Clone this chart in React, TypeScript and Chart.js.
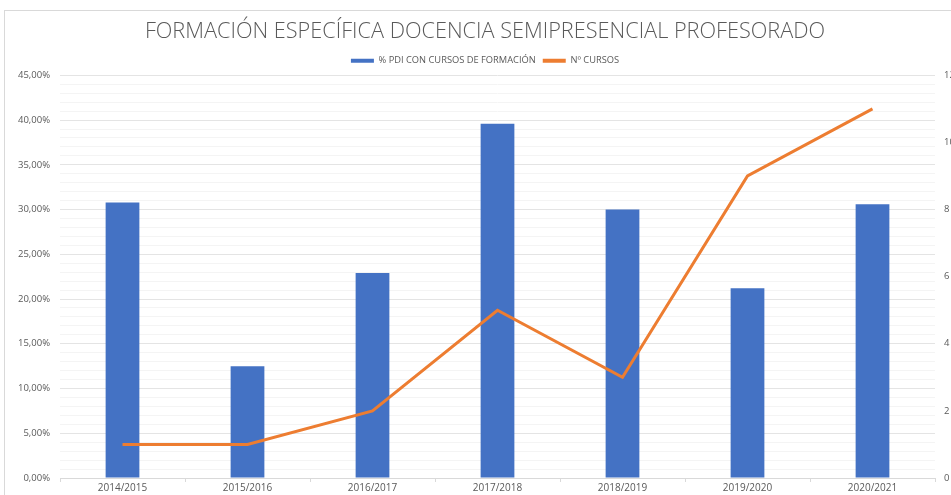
import React, { useEffect, useRef } from "react";
import { Chart, registerables } from "chart.js";

Chart.register(...registerables);

const categories = ["2014/2015", "2015/2016", "2016/2017", "2017/2018", "2018/2019", "2019/2020", "2020/2021"];
const pctPdi = [30.8, 12.5, 22.9, 39.6, 30.0, 21.2, 30.6];
const numCursos = [1, 1, 2, 5, 3, 9, 11];
const titleText = "FORMACIÓN ESPECÍFICA DOCENCIA SEMIPRESENCIAL PROFESORADO";
const barLabel = "% PDI CON CURSOS DE FORMACIÓN";
const lineLabel = "Nº CURSOS";

const CANVAS_W = 962;
const CANVAS_H = 495;

export default function App() {
  const ref = useRef<HTMLCanvasElement | null>(null);

  useEffect(() => {
    document.body.style.margin = "0";
    const canvas = ref.current!;
    const chart = new Chart(canvas, {
      data: {
        labels: categories,
        datasets: [
          {
            type: "line" as const,
            label: lineLabel,
            data: numCursos,
            yAxisID: "y1",
            borderColor: "#ED7D31",
            backgroundColor: "#ED7D31",
            borderWidth: 3,
            pointRadius: 0,
            tension: 0,
            order: 0,
          },
          {
            type: "bar" as const,
            label: barLabel,
            data: pctPdi,
            yAxisID: "y",
            backgroundColor: "#4472C4",
            borderWidth: 0,
            barPercentage: 0.27,
            categoryPercentage: 1,
            order: 1,
          },
        ],
      },
      options: {
        animation: false,
        responsive: false,
        maintainAspectRatio: false,
        devicePixelRatio: 1,
        layout: { padding: { left: 8, right: 0, top: 11, bottom: 1 } },
        plugins: {
          title: {
            display: true,
            text: titleText,
            color: "#595959",
            font: { family: "Open Sans", size: 21.7, weight: "300" as any },
            padding: { top: 8, bottom: 4 },
          },
          legend: {
            display: true,
            reverse: true,
            labels: {
              color: "#595959",
              font: { family: "Open Sans", size: 9.3 },
              boxWidth: 23,
              boxHeight: 4,
              padding: 7,
              generateLabels: (c: any) => {
                const ds = c.data.datasets;
                return ds.map((d: any, i: number) => ({
                  text: d.label,
                  fillStyle: d.type === "line" ? "#ED7D31" : "#4472C4",
                  strokeStyle: d.type === "line" ? "#ED7D31" : "#4472C4",
                  lineWidth: 0,
                  hidden: false,
                  datasetIndex: i,
                  fontColor: "#595959",
                }));
              },
            },
          },
          tooltip: { enabled: false },
        },
        scales: {
          x: {
            offset: true,
            grid: {
              display: true,
              offset: true,
              drawOnChartArea: false,
              drawTicks: true,
              tickLength: 4,
              color: "#d9d9d9",
            },
            border: { display: true, color: "#d9d9d9" },
            ticks: {
              color: "#595959",
              font: { family: "Open Sans", size: 10 },
              padding: 0,
              maxRotation: 0,
            },
          },
          y: {
            position: "left",
            min: 0,
            max: 45,
            ticks: {
              stepSize: 1,
              autoSkip: false,
              color: "#595959",
              font: { family: "Open Sans", size: 9.5 },
              padding: 10,
              callback: (v: any) =>
                Number(v) % 5 === 0 ? Number(v).toFixed(2).replace(".", ",") + "%" : "",
            },
            grid: {
              drawTicks: false,
              color: (ctx: any) => (ctx.tick && ctx.tick.value % 5 === 0 ? "#e4e4e4" : "#f4f4f4"),
              lineWidth: 1,
            },
            border: { display: false },
            afterFit: (s: any) => {
              s.width = 52;
            },
          },
          y1: {
            position: "right",
            min: 0,
            max: 12,
            ticks: {
              stepSize: 2,
              color: "#595959",
              font: { family: "Open Sans", size: 9.5 },
              padding: 9,
            },
            grid: { display: false, drawTicks: false },
            border: { display: false },
            afterFit: (s: any) => {
              s.width = 27;
            },
          },
        },
      },
    } as any);
    return () => chart.destroy();
  }, []);

  return (
    <div style={{ position: "relative", width: 951, height: 495, overflow: "hidden", background: "#fff" }}>
      <div
        style={{
          position: "absolute",
          left: 4,
          top: 10,
          width: 1000,
          height: 600,
          borderLeft: "1px solid #d9d9d9",
          borderTop: "1px solid #d9d9d9",
        }}
      />
      <canvas
        ref={ref}
        width={CANVAS_W}
        height={CANVAS_H}
        style={{ position: "absolute", left: 0, top: 0, width: CANVAS_W, height: CANVAS_H }}
      />
    </div>
  );
}
